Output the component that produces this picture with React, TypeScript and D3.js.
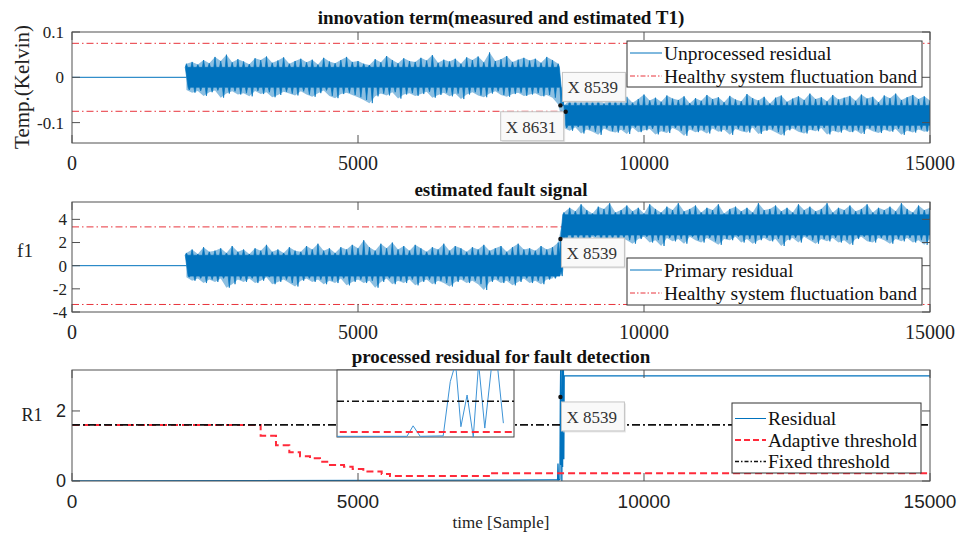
import React from "react";
import * as d3 from "d3";

// ---------------- data ----------------
const xTicks = [0, 5000, 10000, 15000];
const t1Ticks = [-0.1, 0, 0.1];
const f1Ticks = [-4, -2, 0, 2, 4];
const r1Ticks = [0, 2];

const sampleEnd = 15000;
const faultSample = 8539;
const noiseStart = 2000; // residual noise starts here
const noiseStep = 100; // envelope read every 100 samples
const quietLevel = 0;

const t1Band = 0.075;
const f1Band = 3.35;
const fixedThreshold = 1.6;

// dense part of the noise, before and after the fault [low, high]
const t1Core = { before: [-0.022, 0.022], after: [-0.106, -0.062] };
const f1Core = { before: [-0.9, 0.9], after: [2.65, 4.4] };

// spike tops / bottoms of the unprocessed residual (Kelvin), 2000..15000
const t1Hi = [
  0.030, 0.034, 0.028, 0.038, 0.031, 0.045, 0.036, 0.050, 0.033, 0.040,
  0.035, 0.029, 0.042, 0.038, 0.046, 0.032, 0.037, 0.044, 0.030, 0.036,
  0.041, 0.033, 0.039, 0.028, 0.043, 0.035, 0.031, 0.038, 0.045, 0.034,
  0.036, 0.030, 0.027, 0.040, 0.033, 0.047, 0.038, 0.031, 0.042, 0.036,
  0.034, 0.043, 0.037, 0.049, 0.032, 0.039, 0.035, 0.041, 0.030, 0.044,
  0.038, 0.046, 0.033, 0.055, 0.036, 0.040, 0.047, 0.034, 0.039, 0.043,
  0.037, 0.041, 0.032, 0.045, 0.038, 0.030,
  -0.062, -0.050, -0.046, -0.055, -0.041, -0.052, -0.047, -0.058, -0.044, -0.049,
  -0.053, -0.043, -0.056, -0.048, -0.038, -0.051, -0.045, -0.054, -0.040, -0.047,
  -0.050, -0.042, -0.057, -0.046, -0.052, -0.039, -0.048, -0.044, -0.055, -0.041,
  -0.049, -0.053, -0.037, -0.046, -0.051, -0.043, -0.058, -0.045, -0.040, -0.054,
  -0.047, -0.042, -0.050, -0.036, -0.048, -0.044, -0.053, -0.039, -0.049, -0.045,
  -0.041, -0.052, -0.038, -0.047, -0.043, -0.055, -0.040, -0.046, -0.036, -0.050,
  -0.044, -0.039, -0.048, -0.042, -0.051,
];
const t1Lo = [
  -0.028, -0.034, -0.030, -0.041, -0.033, -0.029, -0.045, -0.036, -0.031, -0.038,
  -0.035, -0.042, -0.030, -0.037, -0.033, -0.044, -0.039, -0.032, -0.036, -0.040,
  -0.031, -0.038, -0.043, -0.035, -0.029, -0.041, -0.046, -0.037, -0.034, -0.039,
  -0.044, -0.050, -0.057, -0.042, -0.036, -0.040, -0.033, -0.047, -0.038, -0.035,
  -0.041, -0.037, -0.032, -0.045, -0.039, -0.034, -0.042, -0.036, -0.048, -0.038,
  -0.033, -0.040, -0.044, -0.036, -0.031, -0.039, -0.043, -0.037, -0.034, -0.041,
  -0.038, -0.035, -0.042, -0.039, -0.045, -0.060,
  -0.112, -0.118, -0.110, -0.124, -0.115, -0.120, -0.127, -0.113, -0.119, -0.122,
  -0.116, -0.125, -0.111, -0.121, -0.117, -0.114, -0.126, -0.119, -0.123, -0.112,
  -0.118, -0.129, -0.115, -0.121, -0.117, -0.124, -0.113, -0.120, -0.116, -0.127,
  -0.114, -0.119, -0.122, -0.111, -0.125, -0.118, -0.115, -0.121, -0.128, -0.117,
  -0.113, -0.120, -0.124, -0.116, -0.119, -0.112, -0.126, -0.118, -0.122, -0.115,
  -0.121, -0.117, -0.125, -0.113, -0.119, -0.123, -0.116, -0.120, -0.114, -0.127,
  -0.118, -0.122, -0.115, -0.120, -0.117,
];

// spike tops / bottoms of the estimated fault signal f1, 2000..15000
const f1Hi = [
  1.1, 1.4, 1.0, 1.6, 1.2, 1.3, 1.5, 1.1, 1.7, 1.2,
  1.4, 1.0, 1.5, 1.3, 1.8, 1.2, 1.4, 1.1, 1.6, 1.3,
  1.2, 1.7, 1.4, 1.9, 1.3, 1.5, 1.1, 1.6, 1.4, 1.8,
  1.5, 2.2, 1.6, 1.3, 1.9, 1.5, 2.0, 1.4, 1.7, 1.3,
  1.8, 1.5, 1.2, 1.6, 1.4, 1.9, 1.3, 1.7, 1.5, 1.2,
  1.6, 1.4, 1.8, 1.3, 1.5, 1.7, 1.2, 1.6, 1.9, 1.4,
  1.5, 1.3, 1.7, 1.4, 1.6, 2.0,
  4.6, 5.0, 4.7, 5.3, 4.8, 4.5, 5.1, 4.9, 5.4, 4.6,
  4.8, 5.2, 4.7, 5.0, 4.5, 5.3, 4.9, 4.6, 5.1, 4.8,
  5.4, 4.7, 4.9, 5.2, 4.6, 5.0, 4.8, 5.3, 4.5, 4.9,
  5.1, 4.7, 5.0, 4.6, 5.4, 4.8, 4.9, 5.2, 4.7, 5.0,
  4.6, 5.3, 4.8, 5.1, 4.7, 4.9, 5.4, 4.6, 5.0, 4.8,
  5.2, 4.7, 4.9, 5.3, 4.6, 5.0, 4.8, 5.1, 4.7, 5.4,
  4.9, 4.6, 5.2, 4.8, 5.0,
];
const f1Lo = [
  -1.0, -1.3, -1.1, -1.5, -1.2, -1.4, -1.1, -1.9, -1.6, -1.2,
  -1.4, -1.1, -1.5, -1.3, -1.0, -1.6, -1.4, -1.2, -1.5, -1.8,
  -1.3, -1.1, -1.4, -1.2, -1.6, -1.3, -1.5, -1.1, -1.7, -1.4,
  -1.2, -1.5, -1.3, -1.9, -1.4, -1.1, -1.6, -1.3, -1.5, -1.2,
  -1.7, -1.4, -1.2, -1.6, -1.3, -1.5, -1.8, -1.4, -1.2, -1.5,
  -1.3, -1.6, -2.1, -1.4, -1.2, -1.5, -1.3, -1.7, -1.4, -1.1,
  -1.5, -1.3, -1.6, -1.2, -1.1, -0.5,
  2.3, 2.0, 2.4, 1.9, 2.2, 2.5, 2.1, 1.8, 2.3, 2.0,
  2.4, 2.2, 1.9, 2.3, 2.5, 2.0, 2.2, 1.7, 2.4, 2.1,
  2.3, 1.9, 2.5, 2.2, 2.0, 2.4, 2.1, 1.8, 2.3, 2.2,
  2.5, 2.0, 2.3, 1.9, 2.2, 2.4, 2.1, 2.3, 1.7, 2.2,
  2.4, 2.0, 2.5, 2.2, 1.9, 2.3, 2.1, 2.4, 2.0, 2.2,
  1.8, 2.3, 2.5, 2.1, 2.0, 2.4, 2.2, 1.9, 2.3, 2.1,
  2.4, 2.0, 2.2, 1.8, 2.3,
];

// processed residual R1 (sample, value)
const residual: [number, number][] = [
  [0, 0], [8410, 0.03], [8489, 0.03], [8496, 0.5], [8504, 0.03], [8530, 0.05],
  [8538, 2.48], [8544, 3.3], [8550, 0.46], [8557, 1.88], [8564, 0], [8570, 3.3],
  [8577, 0.4], [8585, 3.3], [8591, 3.3], [8598, 0.62], [8605, 3.0], [15000, 3.0],
];
// adaptive threshold, step changes (sample, value)
const adaptive: [number, number][] = [
  [0, 1.6], [3298, 1.29], [3566, 1.02], [3799, 0.82], [3986, 0.71], [4161, 0.65],
  [4336, 0.55], [4510, 0.46], [4755, 0.41], [4907, 0.34], [5093, 0.27],
  [5414, 0.2], [5559, 0.14], [7308, 0.22], [15000, 0.22],
];
const insetRange = [8410, 8610];
const insetLast = 8600;

// data tips
const t1Tips: [number, number][] = [[8539, -0.062], [8631, -0.076]];
const f1Tips: [number, number][] = [[8539, 2.3]];
const r1Tips: [number, number][] = [[8539, 2.4]];

// ---------------- look ----------------
const serif = "'Liberation Serif', 'Times New Roman', serif";
const sans = "'Liberation Sans', Arial, sans-serif";
const blue = "#0072BD";
const bandRed = "#e8343c";
const adaptRed = "#ff2a3a";
const axisCol = "#505050";
const L = 72, R = 930;

const x = d3.scaleLinear().domain([0, sampleEnd]).range([L, R]);
const yT1 = d3.scaleLinear().domain([-0.145, 0.1]).range([143, 32]);
const yF1 = d3.scaleLinear().domain([-4, 5.5]).range([312, 202]);
const yR1 = d3.scaleLinear().domain([0, 3.17]).range([481, 370]);
const xIn = d3.scaleLinear().domain(insetRange).range([337, 514]);
const yIn = d3.scaleLinear().domain([0, 3]).range([437, 370]);

function Frame({ y, ticks, fmt, font, yFont, labelRight, xFont }: any) {
  const [b, t] = y.range();
  const tl = 8;
  return (
    <g stroke={axisCol} fill="none">
      <rect x={L} y={t} width={R - L} height={b - t} strokeWidth={1} />
      {xTicks.map((v) => (
        <g key={"x" + v}>
          <line x1={x(v)} x2={x(v)} y1={b} y2={b - tl} />
          <line x1={x(v)} x2={x(v)} y1={t} y2={t + tl} />
          <text x={x(v)} y={b + 27} textAnchor="middle" stroke="none" fill="#222"
            fontFamily={font} fontSize={xFont}>{v}</text>
        </g>
      ))}
      {ticks.map((v: number) => (
        <g key={"y" + v}>
          <line x1={L} x2={L + tl} y1={y(v)} y2={y(v)} />
          <line x1={R} x2={R - tl} y1={y(v)} y2={y(v)} />
          <text x={labelRight} y={y(v)} dy="0.35em" textAnchor="end" stroke="none" fill="#222"
            fontFamily={font} fontSize={yFont}>{fmt(v)}</text>
        </g>
      ))}
    </g>
  );
}

// noise: light envelope of the spikes, a dense core and a spike at each reading
function Noise({ hi, lo, core, y }: any) {
  const s = (i: number) => noiseStart + i * noiseStep;
  const c = (i: number) => (s(i) < faultSample ? core.before : core.after);
  const w = noiseStep / 5;
  const top: [number, number][] = hi.flatMap((h: number, i: number) => [
    [s(i) - w, c(i)[1]], [s(i), h], [s(i) + w, c(i)[1]],
  ]);
  const bottom: [number, number][] = lo.flatMap((v: number, i: number) => [
    [s(i) + 2.5 * w - w, c(i)[0]], [s(i) + 2.5 * w, v], [s(i) + 2.5 * w + w, c(i)[0]],
  ]);
  const poly = top.concat(bottom.reverse());
  const ln = d3.line<[number, number]>().x((d) => x(d[0])).y((d) => y(d[1]));
  const env = d3.area<number>().x((_, i) => x(s(i))).y0((_, i) => y(lo[i])).y1((d) => y(d));
  return (
    <g>
      <path d={ln([[0, quietLevel], [noiseStart, quietLevel]]) || ""} stroke={blue} strokeWidth={1} fill="none" />
      <path d={env(hi) || ""} fill={blue} opacity={0.45} />
      <path d={(ln(poly) || "") + "Z"} fill={blue} stroke={blue} strokeWidth={0.7} />
    </g>
  );
}

function Band({ y, v }: any) {
  return (
    <g stroke={bandRed} strokeWidth={1} strokeDasharray="7,3,1.5,3">
      <line x1={x(0)} x2={x(sampleEnd)} y1={y(v)} y2={y(v)} />
      <line x1={x(0)} x2={x(sampleEnd)} y1={y(-v)} y2={y(-v)} />
    </g>
  );
}

function Legend({ x0, y0, w, h, rows, rowH, first, lineW }: any) {
  return (
    <g>
      <rect x={x0} y={y0} width={w} height={h} fill="white" stroke="#333" strokeWidth={1} />
      {rows.map((r: any, i: number) => {
        const cy = y0 + first + i * rowH;
        return (
          <g key={r.label}>
            <line x1={x0 + 3} x2={x0 + 3 + lineW} y1={cy} y2={cy} stroke={r.color}
              strokeWidth={r.width} strokeDasharray={r.dash} />
            <text x={x0 + 5 + lineW} y={cy} dy="0.35em" fontFamily={serif} fontSize={19.5} fill="#111">
              {r.label}
            </text>
          </g>
        );
      })}
    </g>
  );
}

function Tip({ p, y, dx, dy }: any) {
  const px = x(p[0]);
  const py = y(p[1]);
  const bx = px + dx, by = py + dy;
  return (
    <g>
      <rect x={bx + 1.5} y={by + 1.5} width={63} height={29} fill="#d8d8d8" opacity={0.6} />
      <rect x={bx} y={by} width={63} height={29} fill="#f9f9f9" stroke="#c4c4c4" strokeWidth={1} />
      <text x={bx + 5} y={by + 15} dy="0.35em" fontFamily={serif} fontSize={17} fill="#333">
        {"X " + p[0]}
      </text>
      <circle cx={px} cy={py} r={2.2} fill="#111" />
    </g>
  );
}

function Title({ y, children }: any) {
  return (
    <text x={(L + R) / 2} y={y} textAnchor="middle" fontFamily={serif} fontWeight="bold" fontSize={19} fill="#111">
      {children}
    </text>
  );
}

export default function App() {
  const clip = (id: string, y: any) => {
    const [b, t] = y.range();
    return (
      <clipPath id={id}>
        <rect x={L} y={t} width={R - L} height={b - t} />
      </clipPath>
    );
  };
  const rLine = d3.line<[number, number]>().x((d) => x(d[0])).y((d) => yR1(d[1]));
  const aLine = d3.line<[number, number]>().x((d) => x(d[0])).y((d) => yR1(d[1])).curve(d3.curveStepAfter);
  const rIn = d3.line<[number, number]>().x((d) => xIn(d[0])).y((d) => yIn(d[1]));
  const aIn = d3.line<[number, number]>().x((d) => xIn(d[0])).y((d) => yIn(d[1])).curve(d3.curveStepAfter);
  const insetData = residual.filter((d) => d[0] >= insetRange[0] && d[0] <= insetLast);

  return (
    <svg width={957} height={536} style={{ position: "absolute", left: 0, top: 0, background: "white" }}>
      <defs>
        {clip("c1", yT1)}
        {clip("c2", yF1)}
        {clip("c3", yR1)}
        <clipPath id="cin">
          <rect x={337} y={370} width={177} height={67} />
        </clipPath>
      </defs>

      {/* ---- panel 1 ---- */}
      <Title y={24}>innovation term(measured and estimated T1)</Title>
      <g clipPath="url(#c1)">
        <Band y={yT1} v={t1Band} />
        <Noise hi={t1Hi} lo={t1Lo} core={t1Core} y={yT1} />
      </g>
      <Frame y={yT1} ticks={t1Ticks} fmt={(v: number) => (v === 0 ? "0" : String(v))}
        font={serif} yFont={17} xFont={20} labelRight={64} />
      <text transform="translate(29,87) rotate(-90)" textAnchor="middle" fontFamily={serif} fontSize={21} fill="#222">
        Temp.(Kelvin)
      </text>
      <Tip p={t1Tips[0]} y={yT1} dx={2} dy={-33} />
      <Tip p={t1Tips[1]} y={yT1} dx={-65} dy={0} />
      <Legend x0={627} y0={41} w={295} h={46} first={12} rowH={23} lineW={32}
        rows={[
          { label: "Unprocessed residual", color: blue, width: 1 },
          { label: "Healthy system fluctuation band", color: bandRed, width: 1, dash: "5,2,1.5,2" },
        ]} />

      {/* ---- panel 2 ---- */}
      <Title y={196}>estimated fault signal</Title>
      <g clipPath="url(#c2)">
        <Band y={yF1} v={f1Band} />
        <Noise hi={f1Hi} lo={f1Lo} core={f1Core} y={yF1} />
      </g>
      <Frame y={yF1} ticks={f1Ticks} fmt={String} font={serif} yFont={17} xFont={20} labelRight={67} />
      <text x={25} y={250} textAnchor="middle" dy="0.35em" fontFamily={serif} fontSize={19} fill="#222">f1</text>
      <Tip p={f1Tips[0]} y={yF1} dx={1} dy={-1} />
      <Legend x0={627} y0={258} w={295} h={47} first={12} rowH={23} lineW={32}
        rows={[
          { label: "Primary residual", color: blue, width: 1 },
          { label: "Healthy system fluctuation band", color: bandRed, width: 1, dash: "5,2,1.5,2" },
        ]} />

      {/* ---- panel 3 ---- */}
      <Title y={363}>processed residual for fault detection</Title>
      <g clipPath="url(#c3)">
        <path d={rLine(residual) || ""} fill="none" stroke={blue} strokeWidth={1.3} />
        <path d={aLine(adaptive) || ""} fill="none" stroke={adaptRed} strokeWidth={2} strokeDasharray="7,4" />
        <line x1={x(0)} x2={x(sampleEnd)} y1={yR1(fixedThreshold)} y2={yR1(fixedThreshold)}
          stroke="#111" strokeWidth={1.8} strokeDasharray="8,3,2,3" />
      </g>
      <Frame y={yR1} ticks={r1Ticks} fmt={String} font={sans} yFont={18} xFont={19} labelRight={66} />
      <text x={32} y={415} textAnchor="middle" dy="0.35em" fontFamily={serif} fontSize={18} fill="#222">R1</text>
      <text x={(L + R) / 2} y={528} textAnchor="middle" fontFamily={serif} fontSize={17} fill="#222">time [Sample]</text>

      {/* inset zoom */}
      <rect x={337} y={370} width={177} height={67} fill="white" stroke="#444" strokeWidth={1} />
      <g clipPath="url(#cin)">
        <path d={rIn(insetData) || ""} fill="none" stroke="#3d93d6" strokeWidth={1} />
        <path d={aIn(adaptive) || ""} fill="none" stroke={adaptRed} strokeWidth={2} strokeDasharray="7,4" />
        <line x1={xIn(insetRange[0])} x2={xIn(insetRange[1])} y1={yIn(fixedThreshold)} y2={yIn(fixedThreshold)}
          stroke="#111" strokeWidth={1.3} strokeDasharray="7,3,2,3" />
      </g>

      <Tip p={r1Tips[0]} y={yR1} dx={1} dy={5} />
      <Legend x0={732} y0={403} w={189} h={70} first={15.5} rowH={21.5} lineW={31}
        rows={[
          { label: "Residual", color: blue, width: 1 },
          { label: "Adaptive threshold", color: adaptRed, width: 2, dash: "6,3" },
          { label: "Fixed threshold", color: "#111", width: 1.3, dash: "4,2,1.5,2" },
        ]} />
    </svg>
  );
}
